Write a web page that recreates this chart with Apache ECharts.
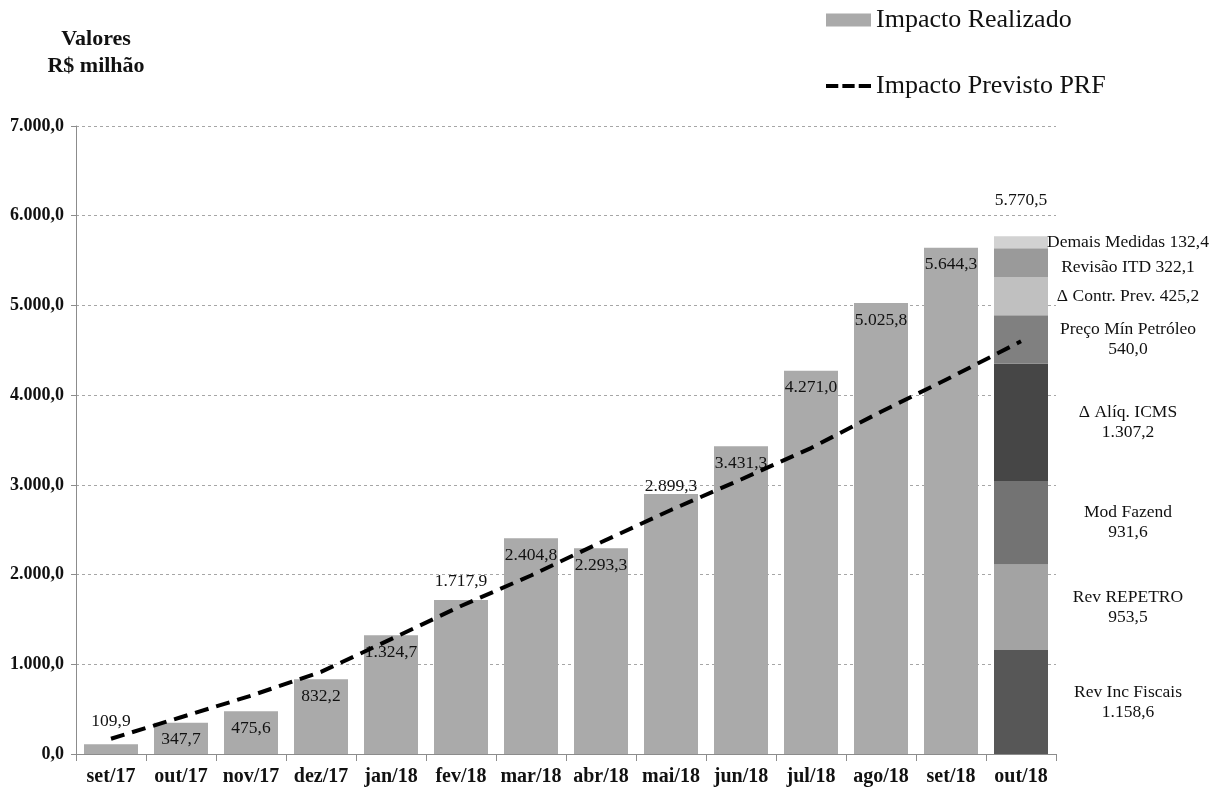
<!DOCTYPE html>
<html>
<head>
<meta charset="utf-8">
<script src="https://cdn.jsdelivr.net/npm/echarts@6/dist/echarts.min.js"></script>
<style>
  html, body { margin: 0; padding: 0; background: #fff; }
  #chart { width: 1214px; height: 789px; }
</style>
</head>
<body>
<div id="chart"></div>
<script>
// categorias (meses)
const categories = ['set/17', 'out/17', 'nov/17', 'dez/17', 'jan/18', 'fev/18', 'mar/18',
  'abr/18', 'mai/18', 'jun/18', 'jul/18', 'ago/18', 'set/18', 'out/18'];

// impacto realizado (out/18 vem das medidas empilhadas)
const realizado = [109.9, 347.7, 475.6, 832.2, 1324.7, 1717.9, 2404.8, 2293.3,
  2899.3, 3431.3, 4271.0, 5025.8, 5644.3, null];

// impacto previsto PRF (linha tracejada)
const previsto = [170, 410, 650, 915, 1280, 1650, 1990, 2360, 2720, 3060, 3410, 3815, 4200, 4600];

// medidas que compõem out/18
const medidasNomes = ['Rev Inc Fiscais', 'Rev REPETRO', 'Mod Fazend', 'Δ Alíq. ICMS',
  'Preço Mín Petróleo', 'Δ Contr. Prev.', 'Revisão ITD', 'Demais Medidas'];
const medidasValores = [1158.6, 953.5, 931.6, 1307.2, 540.0, 425.2, 322.1, 132.4];
const totalOut18 = 5770.5;

// eixo y
const yMin = 0, yMax = 7000, yStep = 1000;

const FONT = '"Liberation Serif", "Times New Roman", serif';
const last = categories.length - 1;

// número no formato brasileiro: 1.234,5
function fmt(v) {
  const parts = v.toFixed(1).split('.');
  return parts[0].replace(/\B(?=(\d{3})+(?!\d))/g, '.') + ',' + parts[1];
}

// rótulos que ficam acima da barra (índice -> distância)
const labelAcima = { 0: 14, 5: 9, 8: -2 };
const medidaCores = ['#575757', '#a3a3a3', '#737373', '#464646', '#808080', '#c0c0c0', '#9a9a9a', '#d2d2d2'];
const umaLinha = [5, 6, 7];

const baseLabel = { fontFamily: FONT, fontSize: 17.5, color: '#111' };

const realizadoData = realizado.map((v, i) => {
  if (v == null) return '-';
  const acima = labelAcima[i] !== undefined;
  return {
    value: v,
    label: {
      show: true,
      position: acima ? 'top' : 'insideTop',
      distance: acima ? labelAcima[i] : 8,
      formatter: () => fmt(v),
      ...baseLabel
    }
  };
});

const series = [{
  name: 'Impacto Realizado',
  type: 'bar',
  stack: 'total',
  barWidth: 54,
  itemStyle: { color: '#aaaaaa' },
  data: realizadoData
}];

medidasNomes.forEach((nome, k) => {
  const data = categories.map((c, i) => (i === last ? medidasValores[k] : '-'));
  const single = umaLinha.indexOf(k) >= 0;
  series.push({
    name: nome,
    type: 'bar',
    stack: 'total',
    barWidth: 54,
    itemStyle: { color: medidaCores[k] },
    label: {
      show: true,
      position: 'right',
      distance: 80,
      align: 'center',
      lineHeight: 20,
      offset: k === 6 ? [0, 5] : [0, 0],
      formatter: () => single ? nome + ' ' + fmt(medidasValores[k]) : nome + '\n' + fmt(medidasValores[k]),
      ...baseLabel
    },
    data: data
  });
});

series.push({
  name: 'Impacto Previsto PRF',
  type: 'line',
  symbol: 'none',
  showSymbol: false,
  z: 10,
  lineStyle: { color: '#000', width: 4, type: [14, 8] },
  itemStyle: { color: '#000' },
  data: previsto
});

// total acima da barra de out/18
series.push({
  name: 'Total',
  type: 'scatter',
  symbolSize: 0,
  itemStyle: { color: '#111', opacity: 1 },
  label: {
    show: true,
    position: 'top',
    distance: 27,
    formatter: () => fmt(totalOut18),
    ...baseLabel
  },
  data: categories.map((c, i) => (i === last ? totalOut18 : '-'))
});

const chart = echarts.init(document.getElementById('chart'), null, { renderer: 'canvas' });
chart.setOption({
  animation: false,
  backgroundColor: '#fff',
  title: {
    text: 'Valores\nR$ milhão',
    left: 96,
    top: 26,
    padding: 0,
    textAlign: 'center',
    textStyle: { fontFamily: FONT, fontSize: 22, fontWeight: 'bold', color: '#111', lineHeight: 27 }
  },
  legend: {
    data: [
      { name: 'Impacto Realizado', icon: 'rect' },
      { name: 'Impacto Previsto PRF', icon: 'path://M0,0h12v4h-12z M16,0h12v4h-12z M32,0h12v4h-12z', itemStyle: { color: '#000' } }
    ],
    orient: 'vertical',
    left: 826,
    top: 7,
    padding: 0,
    itemGap: 40,
    itemWidth: 45,
    itemHeight: 13,
    textStyle: { fontFamily: FONT, fontSize: 26, color: '#111' }
  },
  grid: { left: 76, right: 158, top: 126, bottom: 35, containLabel: false },
  xAxis: {
    type: 'category',
    data: categories,
    axisLine: { lineStyle: { color: '#8c8c8c', width: 1 } },
    axisTick: { show: true, length: 7, lineStyle: { color: '#8c8c8c' } },
    axisLabel: { interval: 0, margin: 13, fontFamily: FONT, fontSize: 20, fontWeight: 'bold', color: '#111' }
  },
  yAxis: {
    type: 'value',
    min: yMin,
    max: yMax,
    interval: yStep,
    axisLine: { show: true, lineStyle: { color: '#8c8c8c', width: 1 } },
    axisTick: { show: true, length: 5, lineStyle: { color: '#8c8c8c' } },
    splitLine: { lineStyle: { color: '#a6a6a6', width: 1, type: [3, 3] } },
    axisLabel: { margin: 12, fontFamily: FONT, fontSize: 18, fontWeight: 'bold', color: '#111', formatter: v => fmt(v) }
  },
  series: series
});
</script>
</body>
</html>
